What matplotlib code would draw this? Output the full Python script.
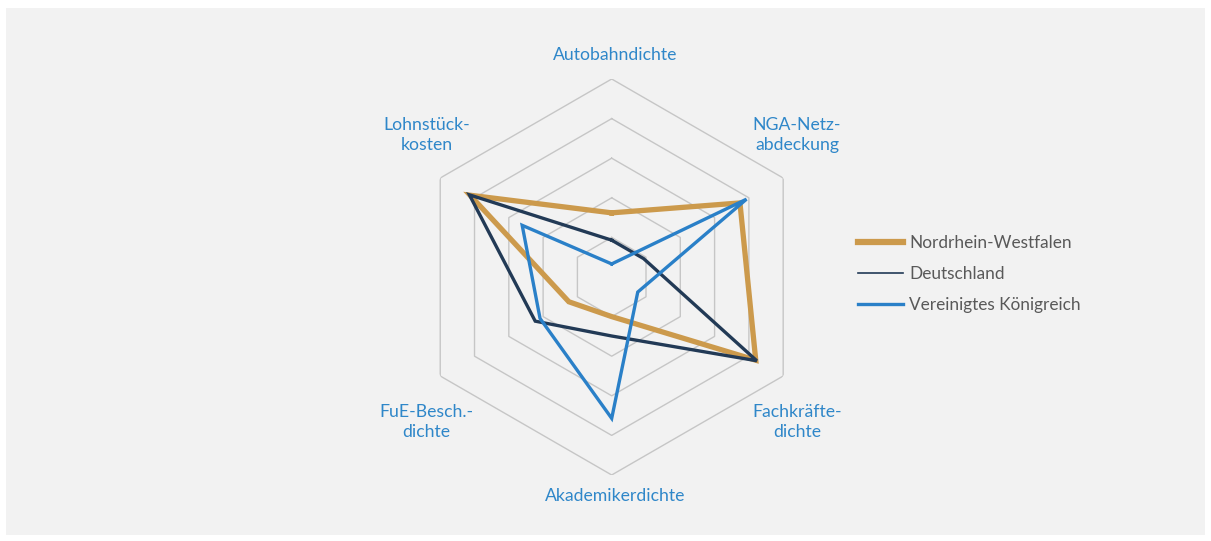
import numpy as np
import matplotlib
matplotlib.use("Agg")
import matplotlib.pyplot as plt
from matplotlib.patches import Rectangle

plt.rcParams['font.family'] = ['Lato', 'DejaVu Sans']

# axes, clockwise from top
categories = ["Autobahndichte", "NGA-Netz-\nabdeckung", "Fachkräfte-\ndichte",
              "Akademikerdichte", "FuE-Besch.-\ndichte", "Lohnstück-\nkosten"]
nrw = [1.62, 3.74, 4.2, 1.0, 1.25, 4.13]
de = [0.93, 0.93, 4.23, 1.49, 2.23, 4.15]
uk = [0.33, 3.93, 0.76, 3.57, 2.09, 2.61]
grid_levels = [1, 2, 3, 4, 5]

W, H = 1211, 541
fig = plt.figure(figsize=(W / 100, H / 100), dpi=100, facecolor="white")
fig.patches.append(Rectangle((6 / W, 6 / H), (W - 12) / W, (H - 14) / H,
                             transform=fig.transFigure, facecolor="#f2f2f2",
                             edgecolor="none", zorder=-10))

cx, cy, rad = 611.7, 541 - 277, 198
ax = fig.add_axes([(cx - rad) / W, (cy - rad) / H, 2 * rad / W, 2 * rad / H],
                  projection="polar")
ax.set_zorder(2)
ax.set_theta_offset(np.pi / 2)
ax.set_theta_direction(-1)
ax.patch.set_visible(False)
ax.spines["polar"].set_visible(False)
ax.grid(False)
ax.set_xticks([])
ax.set_yticks([])
ax.set_ylim(0, 5)

angles = np.linspace(0, 2 * np.pi, len(categories), endpoint=False)
closed = np.append(angles, angles[0])

for lv in grid_levels:
    ax.plot(closed, [lv] * len(closed), color="#c6c6c6", lw=1.0, zorder=1)

def close(v):
    return list(v) + [v[0]]

l1, = ax.plot(closed, close(nrw), color="#cc9a4c", lw=3.8, zorder=3,
              label="Nordrhein-Westfalen", solid_joinstyle="miter")
l2, = ax.plot(closed, close(de), color="#223a56", lw=2.4, zorder=4,
              label="Deutschland", solid_joinstyle="miter")
l3, = ax.plot(closed, close(uk), color="#2a80c8", lw=2.4, zorder=5,
              label="Vereinigtes Königreich", solid_joinstyle="miter")

# category labels (pixel positions from the top left)
label_pos = [(615, 55), (797, 135), (797, 422), (615, 496), (426, 422), (427, 135)]
for txt, (px, py) in zip(categories, label_pos):
    fig.text(px / W, 1 - py / H, txt, ha="center", va="center", fontsize=12.7,
             color="#2f87c9", linespacing=1.3)

leg = fig.legend(handles=[l1, l2, l3], loc="center left",
                 bbox_to_anchor=(843 / W, 1 - 274 / H), frameon=False,
                 fontsize=12.4, handlelength=2.6, handletextpad=0.35,
                 labelspacing=0.85)
for t in leg.get_texts():
    t.set_color("#595959")
lw_leg = [4.5, 1.2, 2.4]
for ln, w in zip(leg.get_lines(), lw_leg):
    ln.set_linewidth(w)

fig.savefig("out.png", dpi=100, facecolor="white")
